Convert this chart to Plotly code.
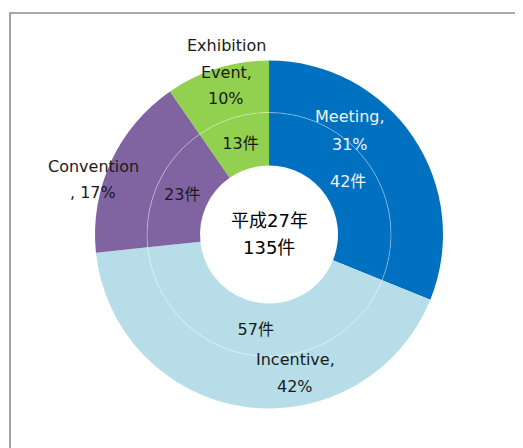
import plotly.graph_objects as go

categories = ["Meeting", "Incentive", "Convention", "Exhibition Event"]
counts = [42, 57, 23, 13]
colors = ["#0070C0", "#B7DEE8", "#8064A2", "#92D050"]
center_title = "平成27年"
count_unit = "件"
inner_text_colors = ["#F2F2F2", "#1A1A1A", "#1A1A1A", "#1A1A1A"]

total = sum(counts)
pcts = [round(v / total * 100) for v in counts]

OFF = 8                      # page body margin in the browser
W, H = 523 - OFF, 448 - OFF  # figure size
CX, CY = 269, 234.5          # pixel centre in the window (from top-left)
R_OUT, R_MID, R_IN = 174, 122, 69
FONT = "DejaVu Sans, Noto Sans CJK JP, sans-serif"


def fx(x):
    return (x - OFF) / W


def fy(y):
    return (H - (y - OFF)) / H


def px_domain(r):
    return dict(x=[fx(CX - r), fx(CX + r)], y=[fy(CY + r), fy(CY - r)])


fig = go.Figure()
fig.add_trace(go.Pie(
    labels=categories, values=counts, sort=False, direction="clockwise",
    rotation=0, hole=R_MID / R_OUT, domain=px_domain(R_OUT),
    marker=dict(colors=colors, line=dict(width=0)),
    textinfo="none", hoverinfo="label+percent", showlegend=False,
))
fig.add_trace(go.Pie(
    labels=categories, values=counts, sort=False, direction="clockwise",
    rotation=0, hole=R_IN / R_MID, domain=px_domain(R_MID),
    marker=dict(colors=colors, line=dict(width=0)),
    texttemplate="%{value}" + count_unit, textposition="inside",
    insidetextorientation="horizontal",
    textfont=dict(family=FONT, size=16, color=inner_text_colors),
    hoverinfo="label+value", showlegend=False,
))

# outer-ring label lines: (category index, lines, pixel x, first-line pixel y, colour)
label_specs = [
    (0, ["Meeting,", f"{pcts[0]}%"], 350, 117, "#F2F2F2"),
    (1, ["Incentive,", f"{pcts[1]}%"], 295, 359, "#1A1A1A"),
    (2, ["Convention", f", {pcts[2]}%"], 93, 166, "#1A1A1A"),
    (3, ["Exhibition", "Event,", f"{pcts[3]}%"], 226, 45, "#1A1A1A"),
]
annotations = []
LINE = 27
for idx, lines, x, y0, col in label_specs:
    for k, t in enumerate(lines):
        annotations.append(dict(
            text=t, x=fx(x), y=fy(y0 + k * LINE), xref="paper", yref="paper",
            showarrow=False, xanchor="center", yanchor="middle",
            font=dict(family=FONT, size=16, color=col)))

annotations.append(dict(
    text=center_title, x=fx(CX), y=fy(220), xref="paper", yref="paper",
    showarrow=False, xanchor="center", yanchor="middle",
    font=dict(family=FONT, size=18, color="#000000")))
annotations.append(dict(
    text=f"{total}{count_unit}", x=fx(CX), y=fy(247), xref="paper", yref="paper",
    showarrow=False, xanchor="center", yanchor="middle",
    font=dict(family=FONT, size=18, color="#000000")))

shapes = [
    dict(type="rect", xref="paper", yref="paper",
         x0=fx(10), x1=1.05, y0=-0.05, y1=fy(13),
         line=dict(color="#8C8C8C", width=1.6), layer="above"),
    dict(type="circle", xref="paper", yref="paper",
         x0=fx(CX - R_MID), x1=fx(CX + R_MID),
         y0=fy(CY + R_MID), y1=fy(CY - R_MID),
         line=dict(color="rgba(255,255,255,0.35)", width=1), layer="above"),
]

fig.update_layout(
    width=W, height=H, margin=dict(l=0, r=0, t=0, b=0),
    paper_bgcolor="white", plot_bgcolor="white",
    annotations=annotations, shapes=shapes,
    font=dict(family=FONT),
)
fig.write_html("out.html")
